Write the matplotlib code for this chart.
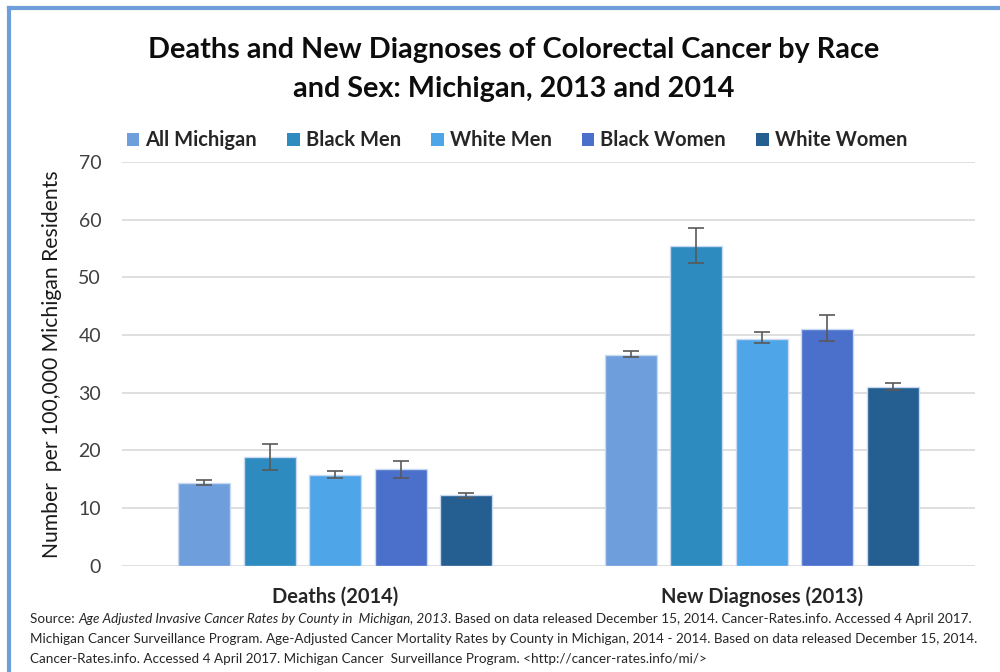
import numpy as np
import matplotlib.pyplot as plt
from matplotlib.lines import Line2D
from matplotlib.patches import Patch

plt.rcParams['font.family'] = ['Lato', 'DejaVu Sans']

categories = ['Deaths (2014)', 'New Diagnoses (2013)']
groups = ['All Michigan', 'Black Men', 'White Men', 'Black Women', 'White Women']
colors = ['#6E9EDB', '#2E8BC0', '#4EA5E8', '#4A70CC', '#255E91']

# rates per 100,000, with lower / upper confidence bounds
values = [[14.3, 18.9, 15.7, 16.7, 12.2],
          [36.6, 55.5, 39.4, 41.1, 31.0]]
lower = [[14.0, 16.6, 15.3, 15.3, 11.7],
         [36.2, 52.4, 38.6, 38.9, 30.4]]
upper = [[14.8, 21.1, 16.5, 18.1, 12.6],
         [37.3, 58.5, 40.5, 43.4, 31.7]]

fig = plt.figure(figsize=(10, 6.72), dpi=100)
ax = fig.add_axes([0.122, 0.158, 0.853, 0.601])

x = np.arange(len(categories))
step = 0.1536
width = 0.122
for i, g in enumerate(groups):
    vals = np.array([v[i] for v in values])
    lo = vals - np.array([l[i] for l in lower])
    hi = np.array([u[i] for u in upper]) - vals
    pos = x + (i - 2) * step
    ax.bar(pos, vals, width, color=colors[i], edgecolor='#C9DAF0', linewidth=1, zorder=2, label=g)
    ax.errorbar(pos, vals, yerr=[lo, hi], fmt='none', ecolor='#595959', elinewidth=1.2,
                capsize=6, capthick=1.2, zorder=3)

ax.set_xlim(-0.5, 1.5)
ax.set_ylim(0, 70)
ax.set_yticks(range(0, 71, 10))
ax.tick_params(axis='y', length=0, labelsize=14, labelcolor='#404040', pad=15)
ax.tick_params(axis='x', length=0, pad=15)
ax.set_xticks(x)
ax.set_xticklabels(categories, fontsize=14.5, fontweight='bold', color='#262626')
ax.grid(axis='y', color='#D9D9D9', linewidth=1.2, zorder=0)
ax.set_axisbelow(True)
for s in ax.spines.values():
    s.set_visible(False)
ax.set_ylabel('Number  per 100,000 Michigan Residents', fontsize=15.2, color='#1a1a1a', labelpad=12)

handles = [Patch(facecolor=c) for c in colors]
fig.legend(handles, groups, loc='center', bbox_to_anchor=(0.517, 0.791), ncol=5, frameon=False,
           prop={'size': 14.5, 'weight': 'bold'}, handlelength=0.62, handleheight=0.62,
           handletextpad=0.3, columnspacing=1.5, labelcolor='#262626')

fig.text(0.514, 0.925, 'Deaths and New Diagnoses of Colorectal Cancer by Race', ha='center', va='center',
         fontsize=20.7, fontweight='bold', color='#0d0d0d')
fig.text(0.514, 0.868, 'and Sex: Michigan, 2013 and 2014', ha='center', va='center',
         fontsize=20.7, fontweight='bold', color='#0d0d0d')

# source note, first line mixes italic and regular text
fs = 9.7
t1 = fig.text(0.030, 0.073, 'Source: ', fontsize=fs, color='#262626')
t2 = ax.annotate('Age Adjusted Invasive Cancer Rates by County in  Michigan, 2013', xy=(1, 0),
                 xycoords=t1, va='bottom', fontsize=fs, style='italic', color='#262626',
                 annotation_clip=False)
ax.annotate('. Based on data released December 15, 2014. Cancer-Rates.info. Accessed 4 April 2017.',
            xy=(1, 0), xycoords=t2, va='bottom', fontsize=fs, color='#262626', annotation_clip=False)
fig.text(0.030, 0.043, 'Michigan Cancer Surveillance Program. Age-Adjusted Cancer Mortality Rates by County in Michigan, '
         '2014 - 2014. Based on data released December 15, 2014.', fontsize=fs, color='#262626')
fig.text(0.030, 0.013, 'Cancer-Rates.info. Accessed 4 April 2017. Michigan Cancer  Surveillance Program. '
         '<http://cancer-rates.info/mi/>', fontsize=fs, color='#262626')

# frame on left and top edges
fig.add_artist(Line2D([0.009, 0.009], [0, 0.988], transform=fig.transFigure, color='#6F9FDB', linewidth=3))
fig.add_artist(Line2D([0.009, 1.0], [0.988, 0.988], transform=fig.transFigure, color='#6F9FDB', linewidth=3))

fig.savefig('out.png', dpi=100)
